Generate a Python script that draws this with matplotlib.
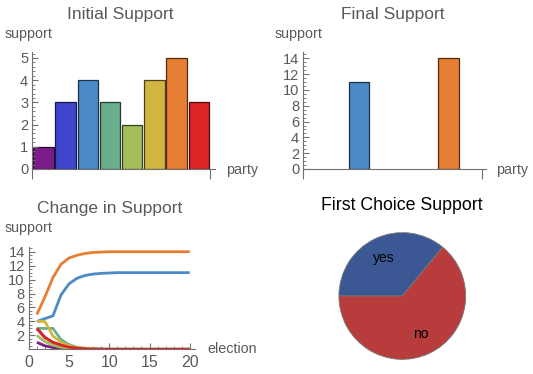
import matplotlib
matplotlib.use('Agg')
import matplotlib.pyplot as plt
from matplotlib.ticker import MultipleLocator, FixedLocator
from matplotlib.colors import to_rgb

W, H = 533, 374
plt.rcParams['font.family'] = ['Liberation Sans', 'DejaVu Sans']

# data
parties = [1, 2, 3, 4, 5, 6, 7, 8]
colors = ['#7a1c88', '#3f46cb', '#4a8bc7', '#6aaf8b', '#a2bd5a', '#d2b440', '#e67e33', '#db2423']
initial = [1, 3, 4, 3, 2, 4, 5, 3]
final = [0, 0, 11, 0, 0, 0, 14, 0]
elections = list(range(1, 21))
history = {
    'purple':   [1, 0.5, 0.25, 0.1, 0.04, 0.02] + [0] * 14,
    'darkblue': [3, 1.7, 1.0, 0.6, 0.3, 0.15, 0.07, 0.03] + [0] * 12,
    'blue':     [4, 4.4, 4.8, 7.8, 9.4, 10.2, 10.6, 10.8, 10.9, 10.95] + [11] * 10,
    'green':    [3, 3, 3, 1.4, 0.65, 0.3, 0.15, 0.07, 0.03] + [0] * 11,
    'lime':     [2, 1.1, 0.6, 0.3, 0.15, 0.07, 0.03] + [0] * 13,
    'yellow':   [4, 4, 1.9, 1.0, 0.5, 0.25, 0.1, 0.05] + [0] * 12,
    'orange':   [5, 7.5, 10.3, 12.2, 13.1, 13.5, 13.75, 13.9, 13.95] + [14] * 11,
    'red':      [3, 1.7, 1.0, 0.6, 0.3, 0.15, 0.07, 0.03, 0.01] + [0] * 11,
}
first_choice = [9, 16]
first_labels = ['yes', 'no']

txt = '#5a5a5a'
axc = '#707070'


def rect(l, t, r, b):
    return [l / W, 1 - b / H, (r - l) / W, (b - t) / H]


def label(x, y, s, **kw):
    fig.text(x / W, 1 - y / H, s, va='center', **kw)


def darker(c, f=0.35):
    r, g, b = to_rgb(c)
    return (r * f, g * f, b * f)


def style(ax):
    for s in ['top', 'right']:
        ax.spines[s].set_visible(False)
    for s in ['left', 'bottom']:
        ax.spines[s].set_color(axc)
        ax.spines[s].set_linewidth(0.8)
    ax.tick_params(colors=axc, labelcolor=txt, labelsize=10.5, width=0.8)
    ax.tick_params(which='minor', colors=axc, width=0.6)


def bars(ax, vals):
    ax.bar(parties, vals, width=0.92, color=colors,
           edgecolor=[darker(c) for c in colors],
           linewidth=[0.9 if v else 0 for v in vals])
    ax.xaxis.set_major_locator(FixedLocator([0.5, 8.5]))
    ax.set_xticklabels([])
    ax.tick_params(axis='x', direction='out', length=7)
    ax.tick_params(axis='y', which='major', direction='in', length=4, pad=3)
    ax.tick_params(axis='y', which='minor', direction='in', length=2)


fig = plt.figure(figsize=(W / 100, H / 100), dpi=100)

# Initial Support
ax1 = fig.add_axes(rect(32.3, 52, 215, 169))
style(ax1)
bars(ax1, initial)
ax1.set_xlim(0.5, 8.73)
ax1.set_ylim(0, 5.27)
ax1.yaxis.set_major_locator(MultipleLocator(1))
ax1.yaxis.set_minor_locator(MultipleLocator(0.2))
label(120, 15, 'Initial Support', ha='center', color=txt, fontsize=12.5)
label(5, 34, 'support', ha='left', color=txt, fontsize=10.3)
label(226, 170, 'party', ha='left', color=txt, fontsize=10.3)

# Final Support
ax2 = fig.add_axes(rect(303.3, 52, 486, 169))
style(ax2)
bars(ax2, final)
ax2.set_xlim(0.5, 8.67)
ax2.set_ylim(0, 14.8)
ax2.yaxis.set_major_locator(MultipleLocator(2))
ax2.yaxis.set_minor_locator(MultipleLocator(0.5))
label(392.7, 15, 'Final Support', ha='center', color=txt, fontsize=12.5)
label(275, 34, 'support', ha='left', color=txt, fontsize=10.3)
label(496, 170, 'party', ha='left', color=txt, fontsize=10.3)

# Change in Support
ax3 = fig.add_axes(rect(28.8, 247, 195, 349.3))
for c, (name, vals) in zip(colors, history.items()):
    ax3.plot(elections, vals, color=c, linewidth=2, solid_capstyle='butt')
ax3.set_xlim(0, 20.65)
ax3.set_ylim(0, 14.68)
style(ax3)
ax3.xaxis.set_major_locator(MultipleLocator(5))
ax3.xaxis.set_minor_locator(MultipleLocator(1))
ax3.yaxis.set_major_locator(FixedLocator([2, 4, 6, 8, 10, 12, 14]))
ax3.yaxis.set_minor_locator(MultipleLocator(0.5))
ax3.tick_params(which='major', direction='in', length=4, pad=3)
ax3.tick_params(which='minor', direction='in', length=2)
ax3.tick_params(axis='x', labelsize=11.5, pad=4)
label(110, 209, 'Change in Support', ha='center', color=txt, fontsize=12.5)
label(5, 228, 'support', ha='left', color=txt, fontsize=10.3)
label(207, 349, 'election', ha='left', color=txt, fontsize=10.3)

# First Choice Support
ax4 = fig.add_axes(rect(402.3 - 64, 296 - 64, 402.3 + 64, 296 + 64))
wedges, texts = ax4.pie(first_choice, labels=first_labels, colors=['#3c5894', '#b83c3c'],
                        startangle=180, counterclock=False, labeldistance=0.67,
                        wedgeprops=dict(edgecolor='#777777', linewidth=0.6),
                        textprops=dict(fontsize=10, color='black'))
for t in texts:
    t.set_ha('center')
    t.set_va('center')
ax4.set_xlim(-1.01, 1.01)
ax4.set_ylim(-1.01, 1.01)
ax4.set_aspect('equal')
label(401.7, 205, 'First Choice Support', ha='center', color='black', fontsize=12.8)

fig.savefig('out.png', dpi=100)
